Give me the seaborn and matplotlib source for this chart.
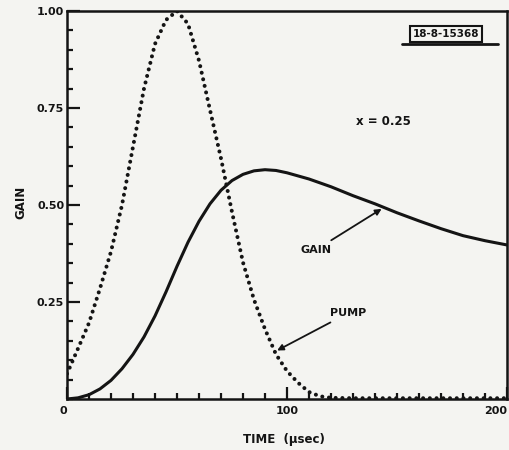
import matplotlib
matplotlib.use("Agg")
import matplotlib.pyplot as plt
from matplotlib.ticker import MultipleLocator, FixedLocator, FormatStrFormatter
from matplotlib.lines import Line2D
import seaborn as sns

# Pump pulse (normalised) versus time
pump_t = [0, 5, 10, 15, 20, 25, 30, 35, 40, 45, 50, 55, 60, 65, 70, 75, 80,
          85, 90, 95, 100, 105, 110, 115, 120, 130, 140, 160, 180, 200]
pump_v = [0.065, 0.13, 0.196, 0.285, 0.38, 0.50, 0.65, 0.80, 0.915, 0.977,
          1.0, 0.967, 0.872, 0.745, 0.62, 0.482, 0.352, 0.256, 0.18, 0.115,
          0.072, 0.042, 0.018, 0.007, 0.003, 0.002, 0.002, 0.002, 0.002,
          0.002]

# Gain versus time
gain_t = [0, 5, 10, 15, 20, 25, 30, 35, 40, 45, 50, 55, 60, 65, 70, 75, 80,
          85, 90, 95, 100, 110, 120, 130, 140, 150, 160, 170, 180, 190, 200]
gain_v = [0.0, 0.003, 0.011, 0.026, 0.048, 0.078, 0.115, 0.16, 0.214, 0.276,
          0.342, 0.404, 0.458, 0.503, 0.538, 0.563, 0.579, 0.588, 0.591,
          0.589, 0.583, 0.567, 0.547, 0.524, 0.503, 0.48, 0.459, 0.439,
          0.421, 0.408, 0.397]

x_major = [0, 100, 200]
y_major = [0.25, 0.50, 0.75, 1.00]

bg = "#f4f4f1"
ink = "#141414"

sns.set_theme(style="ticks")
plt.rcParams["font.family"] = ["DejaVu Sans"]
plt.rcParams["font.weight"] = "bold"

fig = plt.figure(figsize=(5.09, 4.50), dpi=100, facecolor=bg)
ax = fig.add_axes([67 / 509, 1 - 399 / 450, 440 / 509, 388 / 450])
ax.set_facecolor(bg)

sns.lineplot(x=gain_t, y=gain_v, ax=ax, color=ink, linewidth=2.2,
             solid_capstyle="round", solid_joinstyle="round")
sns.lineplot(x=pump_t, y=pump_v, ax=ax, color=ink, linewidth=2.9,
             linestyle=(0, (0.01, 1.66)), dash_capstyle="round")

ax.set_xlim(0, 200)
ax.set_ylim(0, 1.0)

ax.xaxis.set_major_locator(FixedLocator(x_major))
ax.xaxis.set_minor_locator(MultipleLocator(10))
ax.yaxis.set_major_locator(FixedLocator(y_major))
ax.yaxis.set_minor_locator(MultipleLocator(0.05))
ax.yaxis.set_major_formatter(FormatStrFormatter("%.2f"))

ax.tick_params(which="both", direction="in", color=ink, width=1.6,
               top=False, right=False)
ax.tick_params(which="major", length=9, labelsize=8, labelcolor=ink)
ax.tick_params(which="minor", length=4.5)
ax.tick_params(axis="x", which="major", pad=5)
ax.tick_params(axis="y", which="major", pad=2)
for lab in ax.get_xticklabels() + ax.get_yticklabels():
    lab.set_fontweight("bold")
ax.get_xticklabels()[-1].set_horizontalalignment("right")
ax.get_xticklabels()[0].set_horizontalalignment("right")

for s in ax.spines.values():
    s.set_linewidth(1.8)
    s.set_color(ink)

ax.set_xlabel("TIME  (\u03bcsec)", fontsize=8.5, fontweight="bold", color=ink)
ax.set_ylabel("GAIN", fontsize=8.5, fontweight="bold", color=ink)
ax.xaxis.set_label_coords(0.492, -0.088)
ax.yaxis.set_label_coords(-0.089, 0.506)

arrow = dict(arrowstyle="-|>", color=ink, lw=1.3, mutation_scale=9,
             shrinkA=2, shrinkB=0)
ax.annotate("GAIN", xy=(143, 0.49), xytext=(113, 0.384), ha="center",
            va="center", fontsize=8, fontweight="bold", color=ink,
            arrowprops=arrow)
ax.annotate("PUMP", xy=(95.5, 0.125), xytext=(128, 0.222), ha="center",
            va="center", fontsize=8, fontweight="bold", color=ink,
            arrowprops=arrow)
ax.text(144, 0.714, "x = 0.25", ha="center", va="center", fontsize=8.5,
        fontweight="bold", color=ink)

# drawing number tag in the upper right corner
fig.text(446 / 509, 1 - 34 / 450, "18-8-15368", ha="center", va="center",
         fontsize=7.5, fontweight="bold", color=ink,
         bbox=dict(boxstyle="square,pad=0.3", fc=bg, ec=ink, lw=1.5))
fig.add_artist(Line2D([402 / 509, 498 / 509], [1 - 44 / 450, 1 - 44 / 450],
                      transform=fig.transFigure, color=ink, lw=2.0))

fig.savefig("out.png", dpi=100, facecolor=bg)
